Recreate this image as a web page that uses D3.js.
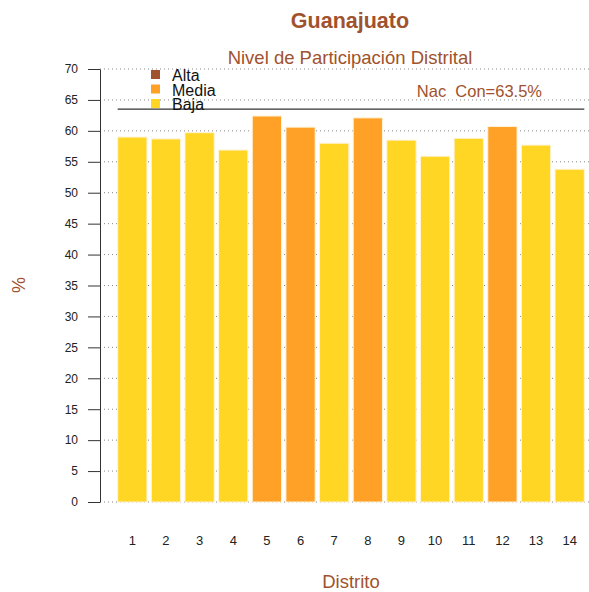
<!DOCTYPE html>
<html><head><meta charset="utf-8">
<script src="https://cdn.jsdelivr.net/npm/d3@7"></script>
<style>body{margin:0;background:#fff}svg{display:block;font-family:"Liberation Sans",Arial,sans-serif}</style>
</head><body><svg id="c" width="589" height="592"></svg>
<script>
const distritos = ["1","2","3","4","5","6","7","8","9","10","11","12","13","14"];
const participacion = [59.0, 58.7, 59.7, 56.9, 62.4, 60.6, 58.0, 62.1, 58.5, 55.9, 58.8, 60.7, 57.7, 53.8];
const nivel = ["Baja","Baja","Baja","Baja","Media","Media","Baja","Media","Baja","Baja","Baja","Media","Baja","Baja"];
const niveles = ["Alta","Media","Baja"];
const nivelColores = ["#A0522D","#FFA126","#FFD624"];
const nacional = 63.5;
const yTicks = d3.range(0, 71, 5);

const svg = d3.select("#c");
const sienna = "#A0522D";
const y = d3.scaleLinear().domain([0,70]).range([502,69]);
const x = d3.scaleBand().domain(distritos).range([116,586]).paddingInner(0.13).paddingOuter(0.05);
const color = d3.scaleOrdinal().domain(niveles).range(nivelColores);

// gridlines
svg.append("g").selectAll("line").data(yTicks).join("line")
  .attr("x1",100).attr("x2",589).attr("y1",d=>y(d)).attr("y2",d=>y(d))
  .attr("stroke","#888").attr("stroke-dasharray","1,3").attr("stroke-width",1);

// bars
svg.append("g").selectAll("rect").data(distritos).join("rect")
  .attr("x",d=>x(d)).attr("width",x.bandwidth())
  .attr("y",(d,i)=>y(participacion[i])).attr("height",(d,i)=>y(0)-y(participacion[i]))
  .attr("fill",(d,i)=>color(nivel[i])).attr("stroke","#FFF3D6").attr("stroke-width",1);

// y axis
const ya = svg.append("g").attr("transform","translate(100,0)")
  .call(d3.axisLeft(y).tickValues(yTicks).tickSize(12).tickPadding(10).tickSizeOuter(0));
ya.select(".domain").attr("stroke","#333");
ya.selectAll(".tick line").attr("stroke","#333");
ya.selectAll("text").attr("font-size",12).attr("fill","#222").attr("font-family","Liberation Sans, Arial, sans-serif");

// x labels
svg.append("g").selectAll("text").data(distritos).join("text")
  .attr("x",d=>x(d)+x.bandwidth()/2).attr("y",545).attr("text-anchor","middle")
  .attr("font-size",13).attr("fill","#222").text(d=>d);

// reference line
svg.append("line").attr("x1",x(distritos[0])).attr("x2",x(distritos[distritos.length-1])+x.bandwidth())
  .attr("y1",y(nacional)).attr("y2",y(nacional)).attr("stroke","#333").attr("stroke-width",1.3);
svg.append("text").attr("x",542).attr("y",97).attr("text-anchor","end").style("white-space","pre")
  .attr("font-size",16.5).attr("fill",sienna).text("Nac  Con=" + nacional + "%");

// legend
const lg = svg.append("g");
niveles.forEach((n,i)=>{
  lg.append("rect").attr("x",151).attr("y",70+i*14.5).attr("width",9).attr("height",9).attr("fill",color(n));
  lg.append("text").attr("x",172).attr("y",81+i*14.5).attr("font-size",16).attr("fill","#111").text(n);
});

// titles
svg.append("text").attr("x",350).attr("y",28).attr("text-anchor","middle")
  .attr("font-size",21.5).attr("font-weight","bold").attr("fill",sienna).text("Guanajuato");
svg.append("text").attr("x",350).attr("y",64).attr("text-anchor","middle")
  .attr("font-size",18.5).attr("fill",sienna).text("Nivel de Participación Distrital");
svg.append("text").attr("x",351).attr("y",588).attr("text-anchor","middle")
  .attr("font-size",18.5).attr("fill",sienna).text("Distrito");
svg.append("text").attr("x",25).attr("y",285).attr("text-anchor","middle")
  .attr("font-size",18).attr("fill",sienna).attr("transform","rotate(-90,25,285)").text("%");
</script></body></html>
